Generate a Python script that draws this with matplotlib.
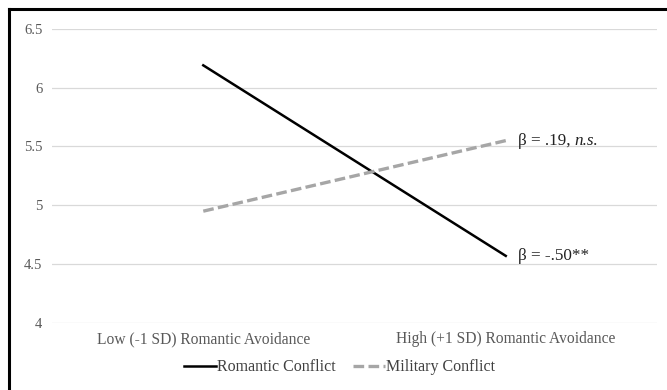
import matplotlib
matplotlib.use("Agg")
import matplotlib.pyplot as plt
from matplotlib.lines import Line2D

# Simple slopes: predicted values at low/high romantic avoidance
levels = ["Low (-1 SD) Romantic Avoidance", "High (+1 SD) Romantic Avoidance"]
romantic = [6.19, 4.57]
military = [4.95, 5.55]
romantic_slope = "β = -.50**"
military_slope = "β = .19, "
military_sig = "n.s."
yticks = [4, 4.5, 5, 5.5, 6, 6.5]
ytick_labels = ["4", "4.5", "5", "5.5", "6", "6.5"]

plt.rcParams["font.family"] = ["Liberation Serif", "DejaVu Serif"]

fig = plt.figure(figsize=(6.67, 3.9), dpi=100)
ax = fig.add_axes([0.078, 0.172, 0.907, 0.754])

x = range(len(levels))
ax.plot(x, romantic, color="black", lw=1.8, label="Romantic Conflict")
ax.plot(x, military, color="#a6a6a6", lw=2.4, ls=(0, (3.2, 1.3)), label="Military Conflict")

ax.set_xlim(-0.5, 1.5)
ax.set_ylim(4, 6.5)
ax.set_yticks(yticks)
ax.set_yticklabels(ytick_labels)
ax.set_xticks(list(x))
ax.set_xticklabels(levels)
ax.grid(axis="y", color="#d9d9d9", lw=0.9)
ax.set_axisbelow(True)
for s in ax.spines.values():
    s.set_visible(False)
ax.tick_params(axis="y", length=0, pad=7, labelsize=10.5, labelcolor="#595959")
ax.tick_params(axis="x", length=0, pad=6, labelsize=11.2, labelcolor="#595959")

# slope annotations beside the right-hand ends
ax.text(1.04, romantic[1], romantic_slope, fontsize=12.3, va="center", ha="left", color="#222222")
t = ax.text(1.04, military[1], military_slope, fontsize=12.3, va="center", ha="left", color="#222222")
ax.annotate(military_sig, xy=(1, 0), xycoords=t, va="bottom", ha="left",
            fontsize=12.3, style="italic", color="#222222")

ax.legend(loc="upper center", bbox_to_anchor=(0.475, -0.075), ncol=2, frameon=False,
          fontsize=11.5, labelcolor="#404040", handlelength=2.0, handletextpad=0.05,
          columnspacing=1.1)

# outer frame (left and top edges)
fig.add_artist(Line2D([0.014, 0.014], [0.0, 0.978], color="black", lw=2.2))
fig.add_artist(Line2D([0.013, 1.0], [0.978, 0.978], color="black", lw=2.2))

fig.savefig("out.png", dpi=100, facecolor="white")
